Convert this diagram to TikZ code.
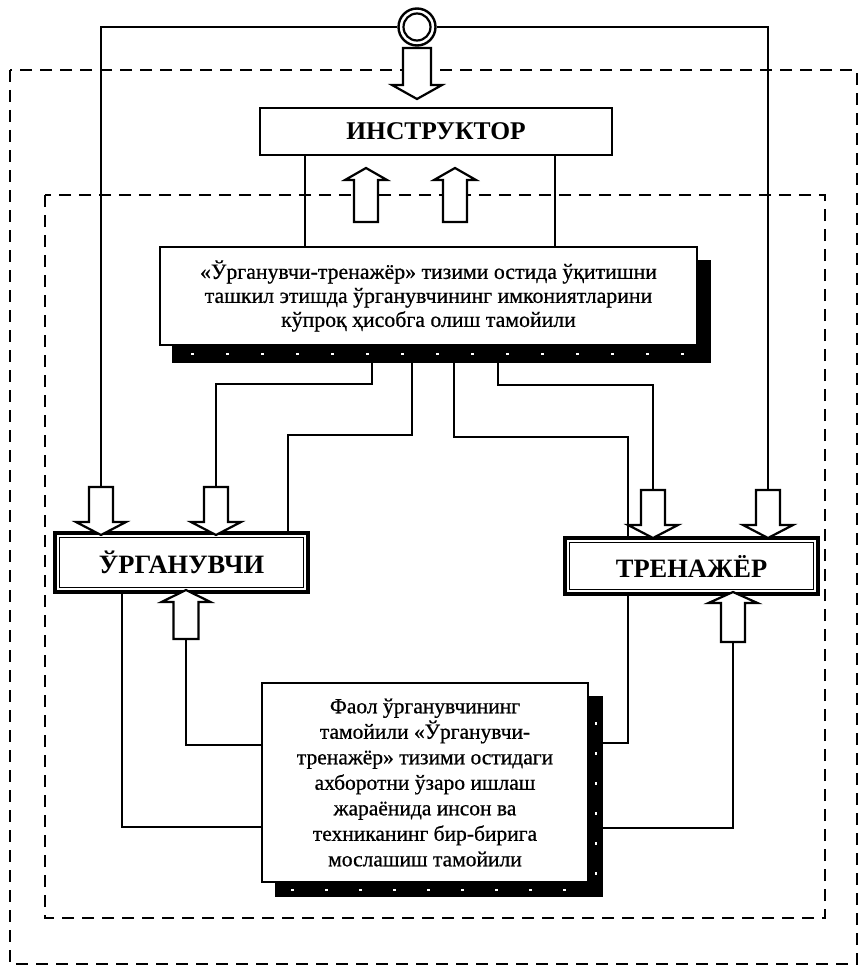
\documentclass[tikz,border=0pt]{standalone}
\usepackage{fontspec}
\setmainfont{Liberation Serif}
\newfontfamily\bodyfont{Liberation Serif}[FakeBold=0.7]
\usetikzlibrary{calc}
\pgfdeclarelayer{lines}
\pgfdeclarelayer{shade}
\pgfsetlayers{lines,shade,main}

% block arrows: tail point, shaft length, head length, shaft half width, head half width
\newcommand\arrdown[5]{\draw[blockarr] (#1) ++(-#4,0) -- ++(0,#2) -- ++({#4-#5},0) -- ++(#5,#3) -- ++(#5,-#3) -- ++({#4-#5},0) -- ++(0,-#2) -- cycle;}
\newcommand\arrup[5]{\draw[blockarr] (#1) ++(-#4,0) -- ++(0,-#2) -- ++({#4-#5},0) -- ++(#5,-#3) -- ++(#5,#3) -- ++({#4-#5},0) -- ++(0,#2) -- cycle;}

\tikzset{
  frame/.style={draw, dash pattern=on 12pt off 8pt, line width=2.8pt},
  conn/.style={draw, line width=2.4pt},
  blockarr/.style={draw, fill=white, line width=2.2pt, line join=miter},
  headbox/.style={draw, fill=white, line width=2.8pt, inner sep=0pt,
    font=\fontsize{25.5}{30}\selectfont\bfseries},
  textbox/.style={draw, fill=white, line width=1.8pt, align=center, inner sep=0pt,
    font=\bodyfont\fontsize{21.8}{24}\selectfont},
  dblbox/.style={draw, fill=white, line width=4.5pt, inner sep=0pt,
    font=\fontsize{26.5}{30}\selectfont\bfseries},
  innerline/.style={draw, line width=1.3pt},
}

\begin{document}
\begin{tikzpicture}[x=1pt,y=-1pt]
\useasboundingbox (0,0) rectangle (861,971);

% source circle
\node[circle, draw, fill=white, line width=2.4pt, minimum size=37pt, inner sep=0pt] (src) at (417,27) {};
\draw[line width=2.2pt] (src.center) circle (13.5pt);

% boxes
\node[headbox, minimum width=352pt, minimum height=47pt] (instr) at (436,131.5) {ИНСТРУКТОР};
\node[textbox, minimum width=537pt, minimum height=98pt] (mid) at (428.5,296)
  {«Ўрганувчи-тренажёр» тизими остида ўқитишни\\ташкил этишда ўрганувчининг имкониятларини\\кўпроқ ҳисобга олиш тамойили};
\node[dblbox, minimum width=253pt, minimum height=59pt] (urg) at (181.5,562.5) {ЎРГАНУВЧИ};
\node[dblbox, minimum width=253pt, minimum height=56pt] (tren) at (691.5,566) {ТРЕНАЖЁР};
\node[textbox, font=\bodyfont\fontsize{21.5}{25.5}\selectfont, minimum width=326pt, minimum height=199pt] (bot) at (425,782.5)
  {Фаол ўрганувчининг\\тамойили «Ўрганувчи-\\тренажёр» тизими остидаги\\ахборотни ўзаро ишлаш\\жараёнида инсон ва\\техниканинг бир-бирига\\мослашиш тамойили};

\draw[innerline] ([shift={(6.5,6.5)}]urg.north west) rectangle ([shift={(-6.5,-6.5)}]urg.south east);
\draw[innerline] ([shift={(6.5,6.5)}]tren.north west) rectangle ([shift={(-6.5,-6.5)}]tren.south east);

% arrow tails and connector columns
\coordinate (ca) at (417,48);
\coordinate (ia1) at (366,222);
\coordinate (ia2) at (455,222);
\coordinate (ua1) at (101,487);
\coordinate (ua2) at (216,487);
\coordinate (ta1) at (653,490);
\coordinate (ta2) at (768,490);
\coordinate (ub) at (186,639);
\coordinate (tb) at (733,642);
\coordinate (xI1) at (305,0);
\coordinate (xI2) at (555,0);
\coordinate (xA) at (372,0);
\coordinate (xB) at (412,0);
\coordinate (xB2) at (288,0);
\coordinate (xC) at (454,0);
\coordinate (xC2) at (628,0);
\coordinate (xD) at (498,0);
\coordinate (xE) at (122,0);
\coordinate (yE) at (0,827);
\coordinate (yF) at (0,745);
\coordinate (yG) at (0,743);
\coordinate (yH) at (0,828);

% block arrows
\arrdown{ca}{37}{14}{14}{25}
\arrup{ia1}{42}{12}{12}{21}
\arrup{ia2}{42}{12}{12}{21}
\arrdown{ua1}{35}{13}{12}{25}
\arrdown{ua2}{35}{13}{12}{25}
\arrdown{ta1}{35}{13}{12}{25}
\arrdown{ta2}{35}{13}{12}{25}
\arrup{ub}{37}{12}{12.5}{24.5}
\arrup{tb}{39}{11}{12}{24.5}

% dashed frames and connectors
\begin{pgfonlayer}{lines}
  \draw[frame] (10,70) rectangle (857,964);
  \draw[frame] (45,195) rectangle (825,918);
  \draw[conn] (src.west) -| (ua1);
  \draw[conn] (src.east) -| (ta2);
  \draw[conn] (instr.south -| xI1) -- (mid.north -| xI1);
  \draw[conn] (instr.south -| xI2) -- (mid.north -| xI2);
  \draw[conn] (mid.south -| xA) -- ++(0,38) -| (ua2);
  \draw[conn] (mid.south -| xB) -- ++(0,89) -| (urg.north -| xB2);
  \draw[conn] (mid.south -| xC) -- ++(0,91) -| (tren.north -| xC2);
  \draw[conn] (mid.south -| xD) -- ++(0,39) -| (ta1);
  \draw[conn] (urg.south -| xE) |- (bot.west |- yE);
  \draw[conn] (ub) |- (bot.west |- yF);
  \draw[conn] (tren.south -| xC2) |- (bot.east |- yG);
  \draw[conn] (tb) |- (bot.east |- yH);
\end{pgfonlayer}

% drop shadows
\begin{pgfonlayer}{shade}
  \fill ([shift={(13,14)}]mid.north west) rectangle ([shift={(13,17)}]mid.south east);
  \fill ([shift={(14,14)}]bot.north west) rectangle ([shift={(14,14)}]bot.south east);
  \foreach \i in {0,...,14}
    \fill[white] ($(mid.south west)+(32+35*\i,7)$) rectangle ++(3,2);
  \foreach \i in {0,...,8}
    \fill[white] ($(bot.south west)+(30+34*\i,6)$) rectangle ++(3,2);
  \foreach \i in {0,...,5}
    \fill[white] ($(bot.north east)+(6,40+30*\i)$) rectangle ++(2,3);
\end{pgfonlayer}
\end{tikzpicture}
\end{document}
